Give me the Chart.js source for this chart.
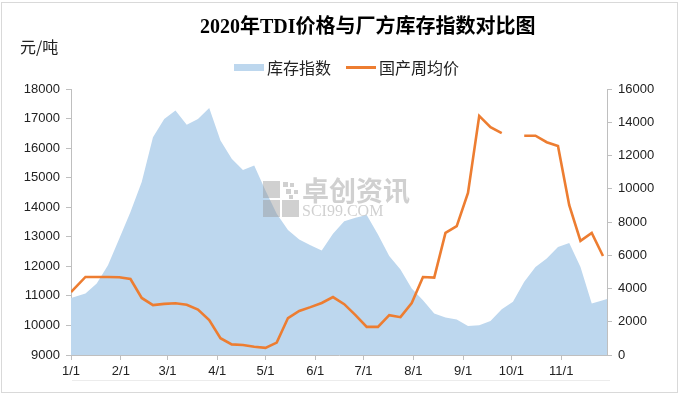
<!DOCTYPE html>
<html><head><meta charset="utf-8">
<script src="https://cdn.jsdelivr.net/npm/chart.js@4.4.0/dist/chart.umd.min.js"></script>
<style>html,body{margin:0;padding:0;background:#fff}#wrap{position:relative;width:680px;height:396px}</style>
</head><body><div id="wrap"><canvas id="c" width="680" height="396"></canvas></div>
<script>
// weekly observation dates (2020)
const weekDates = ['1/1','1/10','1/17','1/24','1/31','2/7','2/14','2/21','2/28','3/6','3/13','3/20','3/27',
  '4/3','4/10','4/17','4/24','5/1','5/8','5/15','5/22','5/29','6/5','6/12','6/19','6/26',
  '7/3','7/10','7/17','7/24','7/31','8/7','8/14','8/21','8/28','9/4','9/11','9/18','9/25',
  '10/2','10/9','10/16','10/23','10/30','11/6','11/13','11/20','11/27','12/4'];
// 库存指数 (right axis)
const inventoryIndex = [3430,3700,4300,5400,7000,8600,10400,13100,14200,14700,13850,14200,14860,
  12900,11800,11130,11400,9900,8500,7520,6950,6600,6280,7300,8050,8250,
  8420,7250,5950,5150,4000,3300,2500,2250,2130,1750,1790,2050,2750,
  3200,4400,5300,5800,6500,6740,5300,3100,3300,3500];
// 国产周均价 (left axis, 元/吨)
const weeklyPrice = [11130,11640,11640,11640,11630,11570,10930,10690,10730,10750,10700,10540,10180,
  9570,9360,9340,9280,9240,9420,10250,10490,10620,10760,10960,10720,10350,
  9950,9950,10350,10280,10760,11640,11620,13130,13360,14480,17090,16710,16510,
  null,16420,16420,16200,16070,14070,12860,13130,12350,null];
const monthTickLabels = ['1/1','2/1','3/1','4/1','5/1','6/1','7/1','8/1','9/1','10/1','11/1'];
const leftAxis = {min: 9000, max: 18000, step: 1000};
const rightAxis = {min: 0, max: 16000, step: 2000};
const xEndDate = '11/30';

function dayOf(s){const [m,d]=s.split('/').map(Number);return (Date.UTC(2020,m-1,d)-Date.UTC(2020,0,1))/86400000;}
const xs = weekDates.map(dayOf);
const monthDays = monthTickLabels.map(dayOf);

const decor = {
  id: 'decor',
  beforeDraw(chart){
    const c = chart.ctx; c.save(); c.fillStyle='#fff'; c.fillRect(0,0,680,396); c.restore();
  },
  afterDatasetsDraw(chart){
    const c = chart.ctx; c.save();
    // watermark
    c.fillStyle='rgba(150,150,150,0.45)';
    c.fillRect(263,181,17,17); c.fillRect(263,200,17,17); c.fillRect(282,200,17,17);
    c.fillRect(283,182,5,5); c.fillRect(290,183,4,4); c.fillRect(286,189,5,5); c.fillRect(294,190,4,4); c.fillRect(289,195,4,4);
    c.font='bold 27px "Noto Sans CJK SC"'; c.textBaseline='middle'; c.textAlign='left';
    c.fillText('卓创资讯',302,191);
    c.font='16px "Liberation Serif"';
    c.fillText('SCI99.COM',302,212);
    c.restore();
  },
  afterDraw(chart){
    const c = chart.ctx; c.save();
    c.strokeStyle='#d9d9d9'; c.lineWidth=1; c.strokeRect(1.5,2.5,676,390);
    c.strokeStyle='#ececec'; c.beginPath(); c.moveTo(72,380.5); c.lineTo(610,380.5); c.stroke();
    c.fillStyle='#000'; c.textBaseline='middle'; c.textAlign='left';
    c.font='bold 20px "Liberation Serif", "Noto Sans CJK SC"';
    c.fillText('2020年TDI价格与厂方库存指数对比图',200,28);
    c.font='16px "Noto Sans CJK SC"';
    c.fillStyle='#222';
    c.fillText('元/吨',20,47);
    // legend
    c.fillStyle='#bdd7ee'; c.fillRect(234,64,30,7);
    c.fillStyle='#222'; c.fillText('库存指数',267,68);
    c.strokeStyle='#ed7d31'; c.lineWidth=3; c.beginPath(); c.moveTo(346,67.5); c.lineTo(376,67.5); c.stroke();
    c.fillText('国产周均价',379,68);
    c.restore();
  }
};

const tickFont = {family: '"Liberation Sans", Arial', size: 13};
const axisColor = '#bfbfbf';
const plain = v => String(v);

new Chart(document.getElementById('c'), {
  type: 'line',
  data: {
    datasets: [
      {label:'国产周均价', yAxisID:'y', data: xs.map((x,i)=>({x, y: weeklyPrice[i]})),
       borderColor:'#ed7d31', borderWidth:2.6, pointRadius:0, fill:false, tension:0, spanGaps:false, order:0},
      {label:'库存指数', yAxisID:'y1', data: xs.map((x,i)=>({x, y: inventoryIndex[i]})),
       borderColor:'#bdd7ee', borderWidth:0, backgroundColor:'#bdd7ee', pointRadius:0, fill:'origin', tension:0, order:1}
    ]
  },
  options: {
    responsive:false, animation:false, devicePixelRatio:1,
    layout:{padding:{top:89,left:0,right:0,bottom:0}},
    plugins:{legend:{display:false}, title:{display:false}, tooltip:{enabled:false}},
    scales:{
      x:{type:'linear', min:0, max:dayOf(xEndDate)-0.5,
        afterBuildTicks(s){ s.ticks = monthDays.map(v=>({value:v})); },
        afterFit(s){ s.height = 41; },
        ticks:{font:tickFont, color:'#222', padding:4, maxRotation:0, autoSkip:false,
          callback(v){ const i = monthDays.indexOf(v); return i>=0 ? monthTickLabels[i] : ''; }},
        grid:{display:true, drawOnChartArea:false, drawTicks:true, tickLength:5, color:axisColor},
        border:{display:true, color:axisColor}
      },
      y:{position:'left', min:leftAxis.min, max:leftAxis.max,
        afterFit(s){ s.width = 71; },
        ticks:{stepSize:leftAxis.step, font:tickFont, color:'#222', padding:6, callback: plain},
        grid:{display:true, drawOnChartArea:false, drawTicks:true, tickLength:5, color:axisColor},
        border:{display:true, color:axisColor}
      },
      y1:{position:'right', min:rightAxis.min, max:rightAxis.max,
        afterFit(s){ s.width = 73; },
        ticks:{stepSize:rightAxis.step, font:tickFont, color:'#222', padding:6, callback: plain},
        grid:{display:true, drawOnChartArea:false, drawTicks:true, tickLength:5, color:axisColor},
        border:{display:true, color:axisColor}
      }
    }
  },
  plugins:[decor]
});
</script></body></html>
